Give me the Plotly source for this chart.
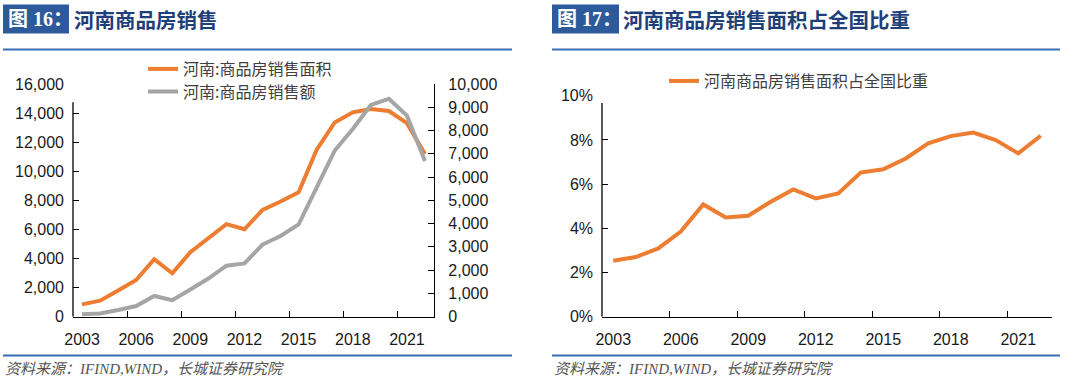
import plotly.graph_objects as go

# ---------------- data ----------------
years = list(range(2003, 2023))
area_henan = [850, 1100, 1800, 2520, 3950, 2980, 4430, 5390, 6360, 6010,
              7340, 7920, 8560, 11480, 13360, 14050, 14280, 14140, 13310, 11180]
sales_henan = [100, 140, 290, 460, 890, 710, 1170, 1640, 2190, 2290,
               3100, 3470, 3970, 5570, 7140, 8070, 9100, 9360, 8640, 6690]
share_pct = [2.53, 2.70, 3.09, 3.85, 5.08, 4.49, 4.57, 5.20, 5.76, 5.35,
             5.58, 6.52, 6.67, 7.16, 7.84, 8.17, 8.33, 7.99, 7.39, 8.19]
share = [v / 100 for v in share_pct]
xtick_years = [2003, 2006, 2009, 2012, 2015, 2018, 2021]
xtick_marks = [2005.5, 2008.5, 2011.5, 2014.5, 2017.5, 2020.5]
left_ticks = list(range(0, 16001, 2000))
right_ticks = list(range(0, 10001, 1000))
pct_ticks = [0, 0.02, 0.04, 0.06, 0.08, 0.10]

name_area = "河南:商品房销售面积"
name_sales = "河南:商品房销售额"
name_share = "河南商品房销售面积占全国比重"
title1 = "河南商品房销售"
title2 = "河南商品房销售面积占全国比重"
box1 = "图 16："
box2 = "图 17："
source = "资料来源：IFIND,WIND，长城证券研究院"

ORANGE = "#ED7D31"
GRAY = "#A5A5A5"
W, H = 1080, 379


def px(x):
    return x / W


def py(y):
    return 1 - y / H


TICKFONT = dict(family="Liberation Sans, Arial, sans-serif", size=16, color="#1a1a1a")
LEGFONT = dict(family="Noto Sans CJK SC, sans-serif", size=16, color="#404040")

fig = go.Figure()
fig.add_trace(go.Scatter(x=years, y=area_henan, name=name_area, mode="lines",
                         line=dict(color=ORANGE, width=4), xaxis="x", yaxis="y",
                         legend="legend"))
fig.add_trace(go.Scatter(x=years, y=sales_henan, name=name_sales, mode="lines",
                         line=dict(color=GRAY, width=4), xaxis="x", yaxis="y2",
                         legend="legend3"))
fig.add_trace(go.Scatter(x=years, y=share, name=name_share, mode="lines",
                         line=dict(color=ORANGE, width=4), xaxis="x2", yaxis="y3",
                         legend="legend2"))

x_common = dict(range=[2002.5, 2022.5], tickmode="array", tickvals=xtick_years,
                ticktext=[str(y) for y in xtick_years], ticks="", showgrid=False,
                zeroline=False, showline=True, linecolor="#000", linewidth=1.3,
                tickfont=TICKFONT, ticklabelstandoff=8, automargin=False,
                minor=dict(tickmode="array", tickvals=xtick_marks, ticks="inside",
                           ticklen=6, tickcolor="#000", tickwidth=1.2, showgrid=False))

LEG = dict(xanchor="left", yanchor="middle", bgcolor="rgba(255,255,255,0)",
           font=LEGFONT, itemwidth=30, borderwidth=0)

ydom = [py(316.7), py(84)]
fig.update_layout(
    width=W, height=H, margin=dict(l=0, r=0, t=0, b=0, pad=0, autoexpand=False),
    paper_bgcolor="white", plot_bgcolor="white",
    showlegend=True,
    xaxis=dict(domain=[px(73), px(434)], anchor="y", **x_common),
    yaxis=dict(domain=ydom, range=[0, 16000], tickmode="array", tickvals=left_ticks,
               tickformat=",", ticks="", showline=False, showgrid=False, zeroline=False,
               tickfont=TICKFONT, ticklabelstandoff=8, automargin=False,
               minor=dict(tickmode="array", tickvals=left_ticks[1:-1], ticks="inside",
                          ticklen=6, tickcolor="#000", tickwidth=1.2, showgrid=False)),
    yaxis2=dict(overlaying="y", side="right", anchor="x", range=[0, 10000],
                tickmode="array", tickvals=right_ticks, tickformat=",", ticks="inside",
                ticklen=6, tickcolor="#000", tickwidth=1.2, showline=True,
                linecolor="#000", linewidth=1.3, showgrid=False, zeroline=False,
                tickfont=TICKFONT, ticklabelstandoff=10, automargin=False),
    xaxis2=dict(domain=[px(602), px(1052)], anchor="y3", **x_common),
    yaxis3=dict(domain=[py(316.7), py(95.7)], anchor="x2", range=[0, 0.10],
                tickmode="array", tickvals=pct_ticks, tickformat=".0%", ticks="",
                showline=False, showgrid=False, zeroline=False, tickfont=TICKFONT,
                ticklabelstandoff=8, automargin=False,
                minor=dict(tickmode="array", tickvals=pct_ticks[1:-1], ticks="inside",
                           ticklen=6, tickcolor="#000", tickwidth=1.2, showgrid=False)),
    legend=dict(x=px(143), y=py(69), **LEG),
    legend3=dict(x=px(143), y=py(91.5), **LEG),
    legend2=dict(x=px(664), y=py(81), **LEG),
)

shapes = []
# partial value-axis lines
shapes.append(dict(type="line", xref="x domain", yref="y", x0=0, x1=0, y0=0, y1=14750,
                   line=dict(color="#000", width=1.3)))
shapes.append(dict(type="line", xref="x2 domain", yref="y3", x0=0, x1=0, y0=0, y1=0.0967,
                   line=dict(color="#000", width=1.3)))
# header boxes and rules
for (bx0, bx1, lx0, lx1) in [(3, 69, 3, 512), (552, 619, 552, 1060)]:
    shapes.append(dict(type="rect", xref="paper", yref="paper", x0=px(bx0), x1=px(bx1),
                       y0=py(33.5), y1=py(4.5), fillcolor="#2C5A9A", line=dict(width=0),
                       layer="below"))
    shapes.append(dict(type="line", xref="paper", yref="paper", x0=px(lx0), x1=px(lx1),
                       y0=py(49.5), y1=py(49.5), line=dict(color="#3D6DB3", width=2.2)))
    shapes.append(dict(type="line", xref="paper", yref="paper", x0=px(lx0), x1=px(lx1),
                       y0=py(355.5), y1=py(355.5), line=dict(color="#3D6DB3", width=2.2)))
fig.update_layout(shapes=shapes)

BOXFONT = dict(family="Liberation Serif, Noto Sans CJK SC, serif", size=20, color="white",
               weight="bold")
TITLEFONT = dict(family="Noto Sans CJK SC, sans-serif", size=20.5, color="#1F3F7A",
                 weight="bold")
SRCFONT = dict(family="Liberation Serif, Noto Sans CJK SC, serif", size=15, color="#555555",
               style="italic")
ann = []
for (bx, tx, b, t) in [(6, 72, box1, title1), (555, 621, box2, title2)]:
    ann.append(dict(text=b, x=px(bx), y=py(19), xref="paper", yref="paper",
                    xanchor="left", yanchor="middle", showarrow=False, font=BOXFONT))
    ann.append(dict(text=t, x=px(tx), y=py(19), xref="paper", yref="paper",
                    xanchor="left", yanchor="middle", showarrow=False, font=TITLEFONT))
for sx in (3, 552):
    ann.append(dict(text=source, x=px(sx), y=py(369), xref="paper", yref="paper",
                    xanchor="left", yanchor="middle", showarrow=False, font=SRCFONT))
fig.update_layout(annotations=ann)

fig.write_html("out.html", config={"displayModeBar": False},
               post_script="document.body.style.margin='0';document.body.style.padding='0';")
